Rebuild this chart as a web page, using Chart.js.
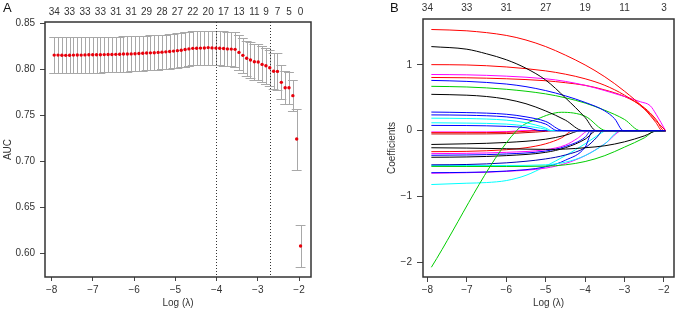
<!DOCTYPE html>
<html>
<head>
<meta charset="utf-8">
<script src="https://cdn.jsdelivr.net/npm/chart.js@4.4.1/dist/chart.umd.min.js"></script>
<style>
  body { margin: 0; background: #fff; }
  #wrap { position: relative; width: 676px; height: 309px; }
  canvas { position: absolute; top: 0; }
  #cvChart { left: 0; }
  #pathChart { left: 338px; }
</style>
</head>
<body>
<div id="wrap">
  <canvas id="cvChart" width="338" height="309"></canvas>
  <canvas id="pathChart" width="338" height="309"></canvas>
</div>
<script>
// ---- Panel A: cross-validated AUC ----
const logLambda = [
  -7.940, -7.847, -7.753, -7.660, -7.566, -7.473, -7.380, -7.286, -7.193, -7.099,
  -7.006, -6.913, -6.819, -6.726, -6.632, -6.539, -6.446, -6.352, -6.259, -6.165,
  -6.072, -5.979, -5.885, -5.792, -5.698, -5.605, -5.512, -5.418, -5.325, -5.231,
  -5.138, -5.045, -4.951, -4.858, -4.764, -4.671, -4.578, -4.484, -4.391, -4.297,
  -4.204, -4.111, -4.017, -3.924, -3.830, -3.737, -3.644, -3.550, -3.457, -3.363,
  -3.270, -3.177, -3.083, -2.990, -2.896, -2.803, -2.710, -2.616, -2.523, -2.429,
  -2.336, -2.243, -2.149, -2.056, -1.962
];
const aucMean = [
  .8155, .8155, .8153, .8152, .8154, .8155, .8156, .8155, .8157, .8158,
  .8159, .8159, .8158, .8160, .8162, .8161, .8163, .8164, .8166, .8166,
  .8168, .8170, .8172, .8175, .8177, .8179, .8181, .8184, .8187, .8190,
  .8194, .8198, .8203, .8208, .8216, .8222, .8228, .8229, .8231, .8232,
  .8236, .8233, .8231, .8229, .8227, .8222, .8220, .8217, .8184, .8152,
  .8120, .8101, .8083, .8080, .8054, .8040, .8018, .7980, .7978, .7859,
  .7801, .7800, .7715, .7244, .6083
];
const aucSd = [
  .0195, .0195, .0195, .0195, .0195, .0195, .0195, .0195, .0195, .0195,
  .0194, .0194, .0194, .0193, .0193, .0193, .0192, .0192, .0192, .0191,
  .0191, .0190, .0190, .0190, .0189, .0189, .0189, .0188, .0188, .0188,
  .0187, .0187, .0187, .0186, .0186, .0186, .0186, .0186, .0186, .0185,
  .0185, .0185, .0185, .0186, .0186, .0187, .0188, .0189, .0190, .0191,
  .0192, .0193, .0193, .0194, .0195, .0196, .0197, .0197, .0197, .0185,
  .0176, .0176, .0170, .0331, .0226
];
const nzAt = [-7.940, -7.566, -7.193, -6.819, -6.446, -6.072, -5.698, -5.325, -4.951,
  -4.578, -4.204, -3.830, -3.457, -3.083, -2.803, -2.523, -2.243, -1.962];
const nzCount = ['34', '33', '33', '33', '31', '31', '29', '28', '27',
  '22', '20', '17', '13', '11', '9', '7', '5', '0'];
const cutoffs = [-4.017, -2.710];
const aucTicks = [0.60, 0.65, 0.70, 0.75, 0.80, 0.85];
const lambdaTicks = [-8, -7, -6, -5, -4, -3, -2];

// ---- Panel B: coefficient paths ----
const dfLabels = ['34', '33', '31', '27', '19', '11', '3'];
const coefTicks = [-2, -1, 0, 1];
const coefPaths = [
  [[-7.9, 1.54], [-7, 1.52], [-6, 1.45], [-5.5, 1.38], [-5, 1.28], [-4.5, 1.15], [-4, 1.0], [-3.5, 0.82], [-3, 0.60], [-2.5, 0.34], [-2.2, 0.15], [-1.96, 0]],
  [[-7.9, 1.28], [-7, 1.24], [-6.5, 1.17], [-6, 1.08], [-5.5, 0.95], [-5, 0.77], [-4.5, 0.5], [-4, 0.2], [-3.72, 0], [-1.96, 0]],
  [[-7.9, 1.005], [-7, 1.0], [-6, 0.97], [-5, 0.91], [-4.5, 0.86], [-4, 0.79], [-3.5, 0.69], [-3, 0.54], [-2.5, 0.33], [-2.2, 0.12], [-2.05, 0], [-1.96, 0]],
  [[-7.9, 0.855], [-7, 0.85], [-6, 0.83], [-5, 0.79], [-4.5, 0.75], [-4, 0.69], [-3.5, 0.61], [-3, 0.52], [-2.6, 0.44], [-2.35, 0.38], [-2.2, 0.25], [-1.96, 0]],
  [[-7.9, 0.81], [-7, 0.805], [-6, 0.79], [-5, 0.76], [-4.5, 0.73], [-4, 0.69], [-3.5, 0.62], [-3, 0.52], [-2.5, 0.35], [-2.2, 0.17], [-2.0, 0], [-1.96, 0]],
  [[-7.9, 0.765], [-7, 0.75], [-6, 0.71], [-5.5, 0.67], [-5, 0.61], [-4.5, 0.53], [-4, 0.43], [-3.5, 0.30], [-3.25, 0.18], [-3.03, 0], [-1.96, 0]],
  [[-7.9, 0.675], [-7, 0.665], [-6, 0.63], [-5, 0.56], [-4.5, 0.50], [-4, 0.42], [-3.5, 0.31], [-3, 0.17], [-2.6, 0], [-1.96, 0]],
  [[-7.9, 0.553], [-7, 0.54], [-6.5, 0.52], [-6, 0.48], [-5.5, 0.41], [-5, 0.30], [-4.5, 0.16], [-4.05, 0], [-1.96, 0]],
  [[-7.9, 0.283], [-7, 0.275], [-6, 0.25], [-5.5, 0.21], [-5, 0.14], [-4.55, 0], [-1.96, 0]],
  [[-7.9, 0.24], [-7, 0.235], [-6, 0.21], [-5.5, 0.17], [-5, 0.10], [-4.7, 0], [-1.96, 0]],
  [[-7.9, 0.19], [-7, 0.185], [-6, 0.16], [-5.5, 0.12], [-5, 0.04], [-4.85, 0], [-1.96, 0]],
  [[-7.9, 0.12], [-7, 0.115], [-6, 0.10], [-5.5, 0.07], [-5, 0.02], [-4.9, 0], [-1.96, 0]],
  [[-7.9, 0.08], [-7, 0.078], [-6, 0.065], [-5.5, 0.045], [-5.1, 0], [-1.96, 0]],
  [[-7.9, -2.08], [-5.74, 0], [-5.2, 0.18], [-4.6, 0.28], [-4, 0.22], [-3.46, 0], [-1.96, 0]],
  [[-7.9, -0.03], [-7, -0.03], [-6, -0.025], [-5.5, -0.01], [-5.2, 0], [-1.96, 0]],
  [[-7.9, -0.05], [-7, -0.05], [-6, -0.045], [-5.5, -0.03], [-5, -0.01], [-4.85, 0], [-1.96, 0]],
  [[-7.9, -0.02], [-7, -0.02], [-6, -0.015], [-5.6, 0], [-1.96, 0]],
  [[-7.9, -0.21], [-7, -0.20], [-6, -0.18], [-5, -0.13], [-4.5, -0.07], [-4.1, 0], [-1.96, 0]],
  [[-7.9, -0.26], [-7, -0.265], [-6, -0.275], [-5, -0.285], [-4.5, -0.28], [-4, -0.26], [-3.5, -0.23], [-3, -0.17], [-2.5, -0.08], [-2.15, 0], [-1.96, 0]],
  [[-7.9, -0.32], [-7, -0.315], [-6, -0.29], [-5.5, -0.26], [-5, -0.20], [-4.6, -0.11], [-4.3, 0], [-1.96, 0]],
  [[-7.9, -0.35], [-7, -0.345], [-6, -0.33], [-5, -0.29], [-4.5, -0.22], [-4.2, -0.12], [-3.9, 0], [-1.96, 0]],
  [[-7.9, -0.375], [-7, -0.37], [-6, -0.355], [-5, -0.31], [-4.5, -0.24], [-4, -0.10], [-3.85, 0], [-1.96, 0]],
  [[-7.9, -0.405], [-7, -0.40], [-6, -0.38], [-5, -0.33], [-4.5, -0.26], [-4, -0.13], [-3.7, 0], [-1.96, 0]],
  [[-7.9, -0.52], [-7, -0.515], [-6, -0.49], [-5, -0.43], [-4.5, -0.37], [-4, -0.26], [-3.7, -0.10], [-3.55, 0], [-1.96, 0]],
  [[-7.9, -0.544], [-7, -0.545], [-6, -0.545], [-5, -0.54], [-4.5, -0.52], [-4, -0.47], [-3.5, -0.38], [-3, -0.25], [-2.5, -0.11], [-2.2, 0], [-1.96, 0]],
  [[-7.9, -0.53], [-7, -0.53], [-6, -0.53], [-5, -0.52], [-4.5, -0.48], [-4, -0.38], [-3.5, -0.20], [-3.1, 0], [-1.96, 0]],
  [[-7.9, -0.64], [-7, -0.635], [-6, -0.615], [-5, -0.55], [-4.5, -0.45], [-4, -0.25], [-3.8, 0], [-1.96, 0]],
  [[-7.9, -0.648], [-7, -0.64], [-6, -0.62], [-5, -0.57], [-4.5, -0.50], [-4, -0.38], [-3.5, -0.20], [-3.05, 0], [-1.96, 0]],
  [[-7.9, -0.82], [-7, -0.80], [-6.5, -0.79], [-6, -0.76], [-5.5, -0.68], [-5, -0.54], [-4.5, -0.38], [-4, -0.20], [-3.7, -0.08], [-3.45, 0], [-1.96, 0]]
];
const coefColors = [
  'red', 'black', 'red', 'magenta', 'red', 'blue', '#00cd00', 'black',
  'blue', 'blue', 'cyan', 'cyan', 'blue', '#00cd00',
  'red', '#c00000', 'magenta', 'black', 'black', 'red', 'magenta', 'blue', 'black',
  '#0000b0', '#00cd00', 'cyan', 'blue', 'magenta', 'cyan'
];
// path drawn last (on top), so the shared zero line reads blue as in the original
const topPath = 8;

const FONT = '"Liberation Sans", Arial, sans-serif';
Chart.defaults.font.family = FONT;
Chart.defaults.font.size = 10;
Chart.defaults.color = '#333';

const minus = v => String(v).replace('-', '\u2212');
const fixTicks = vals => scale => { scale.ticks = vals.map(v => ({ value: v })); };

// box around the plot region + panel letter
const frame = {
  id: 'frame',
  afterDraw(chart, args, opts) {
    const { ctx, chartArea: a } = chart;
    ctx.save();
    ctx.strokeStyle = '#333';
    ctx.lineWidth = 1.5;
    ctx.strokeRect(a.left, a.top, a.right - a.left, a.bottom - a.top);
    ctx.fillStyle = '#111';
    ctx.font = '13px ' + FONT;
    ctx.textBaseline = 'top';
    ctx.fillText(opts.letter, opts.letterX, 2);
    ctx.restore();
  }
};

// error bars and the two dotted lambda lines
const errorBars = {
  id: 'errorBars',
  beforeDatasetsDraw(chart) {
    const { ctx, chartArea: a, scales: { x, y } } = chart;
    const half = 0.02 * (Math.max(...logLambda) - Math.min(...logLambda));
    ctx.save();
    ctx.strokeStyle = '#a8a8a8';
    ctx.lineWidth = 1;
    logLambda.forEach((l, i) => {
      const px = Math.round(x.getPixelForValue(l)) + 0.5;
      const hi = Math.round(y.getPixelForValue(aucMean[i] + aucSd[i])) + 0.5;
      const lo = Math.round(y.getPixelForValue(aucMean[i] - aucSd[i])) + 0.5;
      const x0 = x.getPixelForValue(l - half), x1 = x.getPixelForValue(l + half);
      ctx.beginPath();
      ctx.moveTo(px, lo); ctx.lineTo(px, hi);
      ctx.moveTo(x0, hi); ctx.lineTo(x1, hi);
      ctx.moveTo(x0, lo); ctx.lineTo(x1, lo);
      ctx.stroke();
    });
    ctx.strokeStyle = '#333';
    ctx.setLineDash([1, 2]);
    cutoffs.forEach(c => {
      const px = Math.round(x.getPixelForValue(c)) + 0.5;
      ctx.beginPath();
      ctx.moveTo(px, a.top); ctx.lineTo(px, a.bottom);
      ctx.stroke();
    });
    ctx.restore();
  }
};

const tickGrid = len => ({ display: true, drawOnChartArea: false, drawTicks: true, tickLength: len, tickColor: '#444', tickWidth: 1 });

new Chart(document.getElementById('cvChart'), {
  type: 'scatter',
  data: {
    datasets: [{
      data: logLambda.map((x, i) => ({ x, y: aucMean[i] })),
      pointRadius: 1.7,
      pointBackgroundColor: '#e8000b',
      pointBorderWidth: 0
    }]
  },
  options: {
    responsive: false,
    animation: false,
    layout: { padding: { left: 0, right: 27, top: 0, bottom: 0 } },
    plugins: { legend: { display: false }, tooltip: { enabled: false }, frame: { letter: 'A', letterX: 3 } },
    scales: {
      x: {
        type: 'linear', position: 'bottom', min: -8.163, max: -1.709,
        afterBuildTicks: fixTicks(lambdaTicks),
        afterFit: s => { s.height = 32; },
        grid: tickGrid(4), border: { display: false },
        ticks: { padding: 3, maxRotation: 0, callback: v => minus(v) },
        title: { display: true, text: 'Log (\u03bb)', padding: 0 }
      },
      xTop: {
        type: 'linear', position: 'top', min: -8.163, max: -1.709,
        afterBuildTicks: fixTicks(nzAt),
        afterFit: s => { s.height = 22; },
        grid: { display: false, drawTicks: false }, border: { display: false },
        ticks: { padding: 4, autoSkip: false, maxRotation: 0, callback: (v, i) => nzCount[i] }
      },
      y: {
        type: 'linear', min: 0.5747, max: 0.8514,
        afterBuildTicks: fixTicks(aucTicks),
        afterFit: s => { s.width = 45; },
        grid: tickGrid(5), border: { display: false },
        ticks: { padding: 5, callback: v => v.toFixed(2) },
        title: { display: true, text: 'AUC', padding: { top: 2, bottom: 0 } }
      }
    }
  },
  plugins: [errorBars, frame]
});

new Chart(document.getElementById('pathChart'), {
  type: 'scatter',
  data: {
    datasets: coefPaths.map((p, i) => ({
      data: p.map(([x, y]) => ({ x, y })),
      showLine: true,
      borderColor: coefColors[i],
      borderWidth: 1,
      pointRadius: 0,
      cubicInterpolationMode: 'monotone',
      order: i === topPath ? -1 : 0
    }))
  },
  options: {
    responsive: false,
    animation: false,
    layout: { padding: { left: 0, right: 2, top: 0, bottom: 0 } },
    plugins: { legend: { display: false }, tooltip: { enabled: false }, frame: { letter: 'B', letterX: 52 } },
    scales: {
      x: {
        type: 'linear', position: 'bottom', min: -8.112, max: -1.746,
        afterBuildTicks: fixTicks(lambdaTicks),
        afterFit: s => { s.height = 32; },
        grid: tickGrid(5), border: { display: false },
        ticks: { padding: 2, maxRotation: 0, callback: v => minus(v) },
        title: { display: true, text: 'Log (\u03bb)', padding: 0 }
      },
      xTop: {
        type: 'linear', position: 'top', min: -8.112, max: -1.746,
        afterBuildTicks: fixTicks(lambdaTicks),
        afterFit: s => { s.height = 19; },
        grid: { display: false, drawTicks: false }, border: { display: false },
        ticks: { padding: 5, autoSkip: false, maxRotation: 0, callback: (v, i) => dfLabels[i] }
      },
      y: {
        type: 'linear', min: -2.228, max: 1.700,
        afterBuildTicks: fixTicks(coefTicks),
        afterFit: s => { s.width = 85; },
        grid: tickGrid(6), border: { display: false },
        ticks: { padding: 5, callback: v => minus(v) },
        title: { display: true, text: 'Coefficients', padding: { top: 48, bottom: 0 } }
      }
    }
  },
  plugins: [frame]
});
</script>
</body>
</html>
